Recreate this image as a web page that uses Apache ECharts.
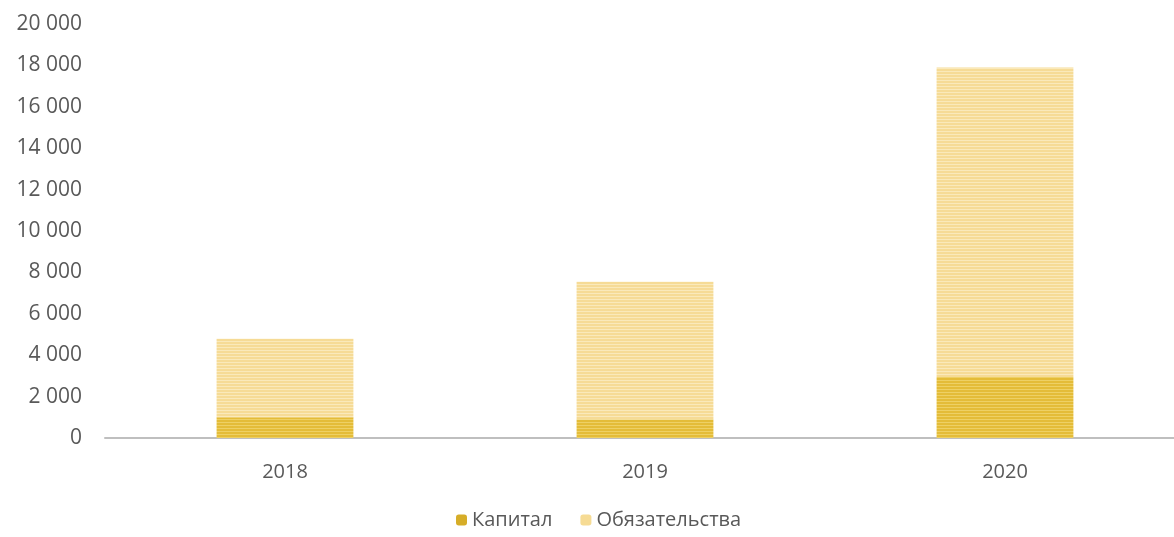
<!DOCTYPE html>
<html>
<head>
<meta charset="utf-8">
<script src="https://cdn.jsdelivr.net/npm/echarts@6/dist/echarts.min.js"></script>
<style>
  html, body { margin: 0; padding: 0; background: #fff; }
  #chart { width: 1174px; height: 537px; }
</style>
</head>
<body>
<div id="chart"></div>
<script>
// Balance structure by year
const years = ['2018', '2019', '2020'];
const capital = [1000, 900, 2950];
const liabilities = [3800, 6650, 14950];
const seriesNames = ['Капитал', 'Обязательства'];

// Horizontal striped fill used for the bars
function stripes(base, line) {
  const c = document.createElement('canvas');
  c.width = 8; c.height = 3;
  const g = c.getContext('2d');
  g.fillStyle = base; g.fillRect(0, 0, 8, 3);
  g.fillStyle = line; g.fillRect(0, 2, 8, 1);
  return { image: c, repeat: 'repeat' };
}

const font = '"Open Sans", "Liberation Sans", sans-serif';
const chart = echarts.init(document.getElementById('chart'));
chart.setOption({
  animation: false,
  textStyle: { fontFamily: font },
  grid: { left: 105, width: 1080, top: 24, bottom: 99, outerBoundsMode: 'none' },
  legend: {
    bottom: 2,
    left: 451,
    itemWidth: 11, itemHeight: 11, itemGap: 28,
    textStyle: { fontSize: 20, color: '#595959', fontFamily: font },
    data: [
      { name: seriesNames[0], itemStyle: { color: '#d6ad28' } },
      { name: seriesNames[1], itemStyle: { color: '#f6db94' } }
    ]
  },
  xAxis: {
    type: 'category',
    data: years,
    axisLine: { lineStyle: { color: '#bfbfbf', width: 2 } },
    axisTick: { show: false },
    axisLabel: { fontSize: 20, color: '#595959', margin: 24 }
  },
  yAxis: {
    type: 'value',
    min: 0, max: 20000, interval: 2000,
    splitLine: { show: false },
    axisLine: { show: false },
    axisTick: { show: false },
    axisLabel: {
      fontSize: 21, color: '#595959', margin: 23,
      formatter: v => String(v).replace(/\B(?=(\d{3})+(?!\d))/g, ' ')
    }
  },
  series: [
    {
      name: seriesNames[0], type: 'bar', stack: 'total', barWidth: '38%',
      data: capital,
      itemStyle: { color: stripes('#e4bc38', '#eed064') }
    },
    {
      name: seriesNames[1], type: 'bar', stack: 'total', barWidth: '38%',
      data: liabilities,
      itemStyle: { color: stripes('#f6db96', '#fae9ba') }
    }
  ]
});
</script>
</body>
</html>
